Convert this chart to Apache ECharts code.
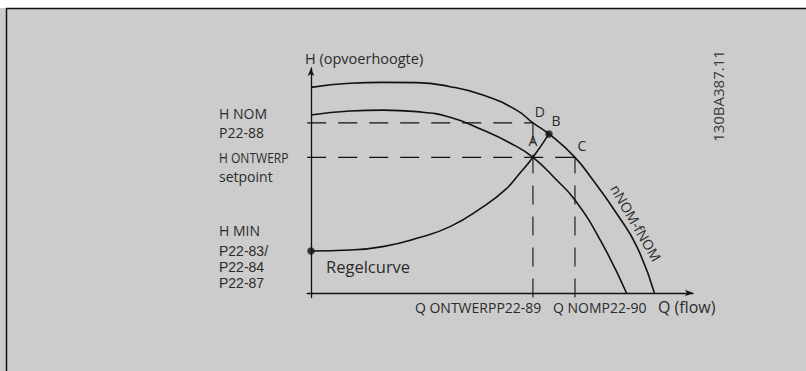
<!DOCTYPE html>
<html>
<head>
<meta charset="utf-8">
<script src="https://cdn.jsdelivr.net/npm/echarts@6/dist/echarts.min.js"></script>
<style>
  html, body { margin: 0; padding: 0; background: #cccccc; }
  #chart { width: 806px; height: 371px; }
</style>
</head>
<body>
<div id="chart"></div>
<script>
// Pump curve at nominal speed / frequency (flow Q, head H)
const curveNom = [[0, 91.4], [10.2, 93.2], [18.8, 93.6], [27.7, 93.5], [36.4, 91.7], [45.0, 88.0],
  [53.8, 81.3], [58.1, 75.6], [62.3, 70.7], [69.1, 60.3], [73.8, 50.2], [80.1, 35.1], [85.3, 20.6], [89.9, 0]];
// Pump curve through the design point
const curveDesign = [[0, 79.1], [10.2, 80.9], [18.8, 81.3], [27.7, 80.6], [36.4, 78.1], [45.0, 72.4],
  [52.1, 66.7], [58.1, 60.3], [64.3, 50.2], [69.1, 41.3], [75.7, 23.6], [82.6, 0]];
// Control curve (Regelcurve) from H MIN up through A to B
const controlCurve = [[0, 18.7], [10.2, 19.1], [18.8, 20.6], [27.7, 24.3], [36.4, 29.5], [45.1, 38.4],
  [50.8, 45.8], [54.5, 52.9], [58.1, 60.3], [62.3, 70.7]];

// Operating values
const qDesign = 58.1;
const qNom = 69.1;
const hNom = 75.6;
const hDesign = 60.3;
const hMin = 18.7;
const pointB = [62.3, 70.7];

// Texts
const axisTitleH = 'H (opvoerhoogte)';
const axisTitleQ = 'Q (flow)';
const labelHNom = ['H NOM', 'P22-88'];
const labelHDesign = ['H ONTWERP', 'setpoint'];
const labelHMin = ['H MIN', 'P22-83/', 'P22-84', 'P22-87'];
const labelQDesign = 'Q ONTWERPP22-89';
const labelQNom = 'Q NOMP22-90';
const pointLetters = ['D', 'B', 'A', 'C'];
const curveNomLabel = 'nNOM-fNOM';
const controlLabel = 'Regelcurve';
const drawingCode = '130BA387.11';

const FONT = '"Open Sans", "Liberation Sans", sans-serif';
const FONT_COMPACT = '"Liberation Sans", sans-serif';
const INK = '#111111';
const TEXT = '#2b2b2b';
const DASH = [19, 12];

const chart = echarts.init(document.getElementById('chart'), null, { renderer: 'svg' });

const guide = (data) => ({
  type: 'line', data, symbol: 'none', silent: true, animation: false,
  lineStyle: { color: INK, width: 1.1, type: DASH }
});
const curve = (data) => ({
  type: 'line', data, symbol: 'none', smooth: 0.5, silent: true, animation: false,
  lineStyle: { color: INK, width: 1.6 }
});

chart.setOption({
  backgroundColor: '#cccccc',
  animation: false,
  grid: { left: 307.2, top: 68, width: 385.8, height: 229.5 },
  xAxis: {
    type: 'value', min: -1, max: 100,
    axisLine: { onZero: true, symbol: ['none', 'arrow'], symbolSize: [5, 8], lineStyle: { color: INK, width: 1.3 } },
    axisTick: { show: false }, axisLabel: { show: false }, splitLine: { show: false }
  },
  yAxis: {
    type: 'value', min: -2, max: 100,
    axisLine: { onZero: true, symbol: ['none', 'arrow'], symbolSize: [5, 8], lineStyle: { color: INK, width: 1.3 } },
    axisTick: { show: false }, axisLabel: { show: false }, splitLine: { show: false }
  },
  series: [
    guide([[-1, hNom], [qDesign, hNom]]),
    guide([[-1, hDesign], [qNom, hDesign]]),
    guide([[qDesign, -2], [qDesign, hNom]]),
    guide([[qNom, -2], [qNom, hDesign]]),
    curve(curveNom),
    curve(curveDesign),
    curve(controlCurve),
    {
      type: 'scatter', data: [[0, hMin], pointB], symbolSize: 7.5, silent: true, animation: false,
      itemStyle: { color: INK }
    }
  ]
});

const px = (q, h) => chart.convertToPixel({ gridIndex: 0 }, [q, h]);
const txt = (text, x, y, opts = {}) => ({
  type: 'text', x, y, rotation: opts.rotation || 0, scaleX: opts.scaleX || 1, silent: true,
  style: {
    text, fill: opts.fill || TEXT, font: (opts.size || 14) + 'px ' + (opts.family || FONT),
    textAlign: opts.align || 'left', textVerticalAlign: 'middle'
  }
});

const origin = px(0, 0);
const axisTop = px(0, 100);
const axisEnd = px(100, 0);
const dPt = px(qDesign, hNom);
const aPt = px(qDesign, hDesign);
const cPt = px(qNom, hDesign);
const bPt = px(pointB[0], pointB[1]);
const yNom = px(0, hNom)[1];
const yDes = px(0, hDesign)[1];
const yMin = px(0, hMin)[1];
const leftX = 219;
const compact = { size: 14, family: FONT_COMPACT };

const g = [
  // frame
  { type: 'rect', shape: { x: 0, y: 0, width: 806, height: 8 }, style: { fill: '#ffffff' }, silent: true },
  { type: 'line', shape: { x1: 6, y1: 8.5, x2: 806, y2: 8.5 }, style: { stroke: INK, lineWidth: 1.5 }, silent: true },
  { type: 'line', shape: { x1: 6.5, y1: 8, x2: 6.5, y2: 371 }, style: { stroke: INK, lineWidth: 1.5 }, silent: true },
  // axis titles
  txt(axisTitleH, axisTop[0] - 6, axisTop[1] - 10, { size: 14.5 }),
  txt(axisTitleQ, axisEnd[0] - 35, origin[1] + 14, { size: 16 }),
  // head labels
  txt(labelHNom[0], leftX, yNom - 9),
  txt(labelHNom[1], leftX, yNom + 10),
  txt(labelHDesign[0], leftX, yDes, { scaleX: 0.86 }),
  txt(labelHDesign[1], leftX, yDes + 19),
  txt(labelHMin[0], leftX, yMin - 20),
  txt(labelHMin[1], leftX, yMin, compact),
  txt(labelHMin[2], leftX, yMin + 16, compact),
  txt(labelHMin[3], leftX, yMin + 32, compact),
  // flow labels
  txt(labelQDesign, aPt[0] - 118, origin[1] + 14),
  txt(labelQNom, cPt[0] - 22, origin[1] + 14),
  // point letters
  txt(pointLetters[0], dPt[0] + 7, dPt[1] - 11, { align: 'center' }),
  txt(pointLetters[1], bPt[0] + 7, bPt[1] - 13, { align: 'center' }),
  txt(pointLetters[2], aPt[0], aPt[1] - 17, { align: 'center' }),
  txt(pointLetters[3], cPt[0] + 7, cPt[1] - 12, { align: 'center' }),
  // curve labels
  txt(curveNomLabel, 636, 223, { align: 'center', rotation: -Math.PI / 3, size: 14 }),
  txt(controlLabel, origin[0] + 15, yMin + 16, { size: 16.5 }),
  txt(drawingCode, 718, 96, { align: 'center', rotation: Math.PI / 2, size: 15, fill: '#3a3a3a' })
];

chart.setOption({ graphic: g });
</script>
</body>
</html>
